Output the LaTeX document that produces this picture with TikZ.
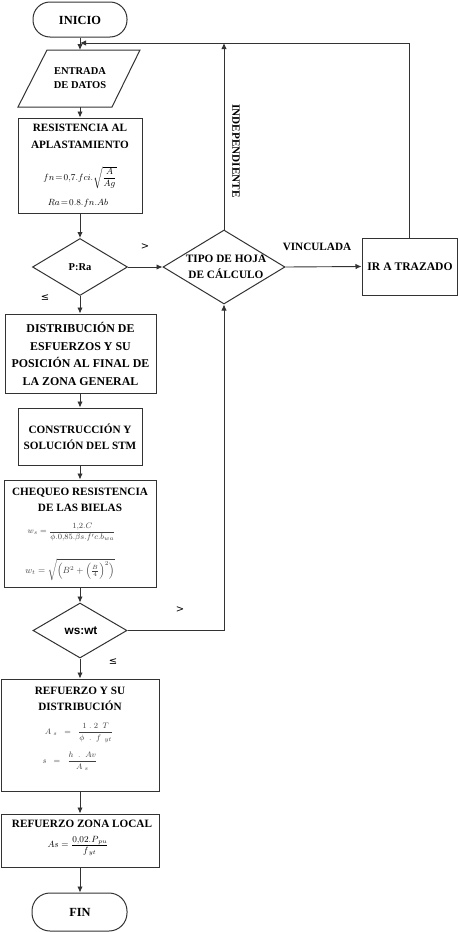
\documentclass[tikz,border=0pt]{standalone}
\usepackage{amsmath}
\usepackage{fontspec}
\setmainfont{Liberation Serif}
\newfontfamily\sansf{Liberation Sans}
\newfontfamily\symf{DejaVu Sans}
\usetikzlibrary{arrows.meta,shapes.geometric}
\tikzset{
  box/.style={draw=black!80, line width=1pt, rectangle, inner sep=0pt},
  term/.style={draw=black!80, line width=1pt, rectangle, rounded corners=17pt, inner sep=0pt},
  dia/.style={draw=black!80, line width=1pt, diamond, inner sep=0pt},
  ln/.style={draw=black!80, line width=0.9pt},
  arr/.style={draw=black!80, line width=0.9pt, -{Latex[length=6pt,width=5.5pt]}},
  ttl/.style={font=\fontsize{11.2}{17}\selectfont\bfseries, align=center, inner sep=0pt},
  sml/.style={font=\fontsize{11.2}{15}\selectfont\bfseries, align=center, inner sep=0pt},
  frm/.style={font=\fontsize{9}{11}\selectfont, inner sep=0pt},
  frs/.style={font=\fontsize{8.5}{10}\selectfont, text=black!75, inner sep=0pt},
  sym/.style={font=\symf\fontsize{10}{12}\selectfont, inner sep=0pt},
}
\begin{document}
\begin{tikzpicture}[x=1pt,y=-1pt]
\useasboundingbox[fill=white] (0,0) rectangle (458,932);

% shapes
\node[term, minimum width=94pt, minimum height=35pt] (ini) at (80,19.5) {};
\node[ttl, font=\fontsize{12.4}{14}\selectfont\bfseries] (initxt) at (80,20) {INICIO};

\draw[line width=1pt, draw=black!80] (47,50) -- (140,50) -- (112,107) -- (18,107) -- cycle;
\node[inner sep=0pt, minimum width=60pt, minimum height=57pt] (ent) at (80,78.5) {};
\node[sml, font=\fontsize{10.5}{14}\selectfont\bfseries] (enttxt) at (80,78) {ENTRADA\\DE DATOS};

\node[box, minimum width=124pt, minimum height=95pt] (res) at (80,165.5) {};
\node[ttl] (restxt) at (80,136.5) {RESISTENCIA AL\\APLASTAMIENTO};
\node[frm] (resf1) at (80,178) {$fn\!=\!0{,}7.fci.\sqrt{\dfrac{A}{Ag}}$};
\node[frm] (resf2) at (78,203) {$Ra\!=\!0.8.fn.Ab$};

\node[dia, minimum width=95pt, minimum height=57pt] (pra) at (80,267) {};
\node[ttl, font=\fontsize{10.5}{12}\selectfont\bfseries] (pratxt) at (80,267) {P:Ra};

\node[dia, minimum width=122pt, minimum height=74pt] (tipo) at (224,267) {};
\node[sml, font=\fontsize{11.3}{16}\selectfont\bfseries] (tipotxt) at (226,266.5) {TIPO DE HOJA\\DE CÁLCULO};

\node[box, minimum width=95pt, minimum height=57pt] (ir) at (409.5,266.5) {};
\node[ttl, font=\fontsize{11.6}{12}\selectfont\bfseries] (irtxt) at (410,267) {IR A TRAZADO};

\node[box, minimum width=151pt, minimum height=79pt] (dist) at (80.5,353.5) {};
\node[ttl, font=\fontsize{11.9}{17.7}\selectfont\bfseries] (disttxt) at (80.5,354) {DISTRIBUCIÓN DE\\ESFUERZOS Y SU\\POSICIÓN AL FINAL DE\\LA ZONA GENERAL};

\node[box, minimum width=124pt, minimum height=57pt] (cons) at (80,436.5) {};
\node[sml, font=\fontsize{11.2}{16}\selectfont\bfseries] (constxt) at (80,437) {CONSTRUCCIÓN Y\\SOLUCIÓN DEL STM};

\node[box, minimum width=152pt, minimum height=107pt] (cheq) at (80,533.5) {};
\node[ttl, font=\fontsize{11.2}{16}\selectfont\bfseries] (cheqtxt) at (80,499.5) {CHEQUEO RESISTENCIA\\DE LAS BIELAS};
\node[frs] (cheqf1) at (71.5,532) {$w_s=\dfrac{1{,}2.C}{\phi.0{,}85.\beta s.f'c.b_{wa}}$};
\node[frs, font=\fontsize{9}{10}\selectfont] (cheqf2) at (70,570) {$w_t=\sqrt{\Bigl(B^2+\Bigl(\frac{B}{4}\Bigr)^{2}\Bigr)}$};

\node[dia, minimum width=94pt, minimum height=55pt] (ws) at (80,630.5) {};
\node[ttl, font=\sansf\fontsize{11.8}{12}\selectfont\bfseries] (wstxt) at (81,631) {ws:wt};

\node[box, minimum width=158pt, minimum height=112pt] (refd) at (80,735) {};
\node[ttl, font=\fontsize{11.2}{16}\selectfont\bfseries] (refdtxt) at (80,699) {REFUERZO Y SU\\DISTRIBUCIÓN};
\node[frs] (refdf1) at (79,733) {$A_{\;s}\;\;=\;\;\dfrac{1\;.\;2\;\;T}{\phi\;\;.\;\;f_{\;\;yt}}$};
\node[frs] (refdf2) at (70,761) {$s\;\;=\;\;\dfrac{h\;\;.\;\;Av}{A_{\;s}}$};

\node[box, minimum width=158pt, minimum height=53pt] (refl) at (80,840.5) {};
\node[ttl] (refltxt) at (82,824) {REFUERZO ZONA LOCAL};
\node[frm] (reflf) at (78,846) {$As=\dfrac{0{,}02.P_{\,pu}}{f_{\,yt}}$};

\node[term, minimum width=95pt, minimum height=38pt, rounded corners=18pt] (fin) at (79.5,912) {};
\node[ttl, font=\fontsize{12.4}{14}\selectfont\bfseries] (fintxt) at (80,912.5) {FIN};

% labels
\node[sym] (gt1) at (145,247) {>};
\node[sym] (le1) at (45,298) {≤};
\node[sml] (vinc) at (317,247) {VINCULADA};
\node[sml, rotate=-90] (indep) at (236,151) {INDEPENDIENTE};
\node[sym] (gt2) at (180,610) {>};
\node[sym] (le2) at (113,662) {≤};

% connectors
\coordinate (jn) at (80,43);
\coordinate (entT) at (80,50);
\coordinate (entB) at (80,107);
\draw[ln] (ini.south) -- (jn);
\draw[arr] (jn) -- (entT);
\draw[arr] (ir.north) |- (jn);
\draw[arr] (tipo.north) -- (tipo.north |- jn);
\draw[arr] (entB) -- (res.north);
\draw[arr] (res.south) -- (pra.north);
\draw[arr] (pra.east) -- (tipo.west);
\draw[arr] (tipo.east) -- (ir.west);
\draw[arr] (pra.south) -- (pra.south |- dist.north);
\draw[arr] (dist.south -| cons.north) -- (cons.north);
\draw[arr] (cons.south) -- (cheq.north);
\draw[arr] (cheq.south) -- (ws.north);
\draw[arr] (ws.east) -| (tipo.south);
\draw[arr] (ws.south) -- (refd.north);
\draw[arr] (refd.south) -- (refl.north);
\draw[arr] (refl.south) -- (refl.south |- fin.north);
\end{tikzpicture}
\end{document}
